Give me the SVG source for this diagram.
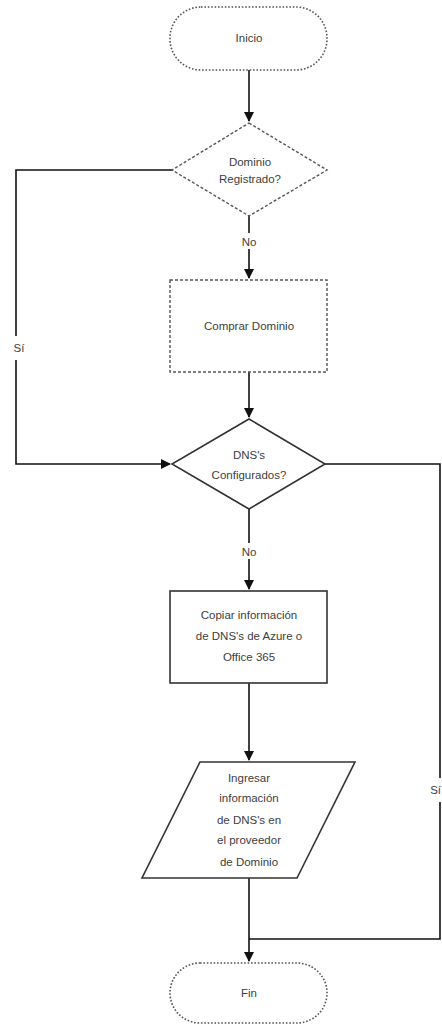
<svg xmlns="http://www.w3.org/2000/svg" width="442" height="1024" viewBox="0 0 442 1024">
<style>
.t{font-family:"Liberation Sans","Open Sans",sans-serif;font-size:11.5px;fill:#404040;text-anchor:middle}
.dot{fill:#fff;stroke:#555;stroke-width:1.6;stroke-dasharray:1.6 1.8}
.dash{fill:#fff;stroke:#555;stroke-width:1.4;stroke-dasharray:3 2}
.solid{fill:#fff;stroke:#333;stroke-width:1.6}
.c{fill:none;stroke:#111;stroke-width:1.6}
</style>
<defs>
<marker id="a" markerWidth="10" markerHeight="10" refX="9" refY="5" orient="auto" markerUnits="userSpaceOnUse">
<path d="M0,0 L10,5 L0,10 z" fill="#111"/>
</marker>
</defs>
<g id="connectors">
<path class="c" d="M249,70 V121" marker-end="url(#a)"/>
<path class="c" d="M249,216 V278" marker-end="url(#a)"/>
<path class="c" d="M172,170 H16 V464 H170" marker-end="url(#a)"/>
<path class="c" d="M249,372 V417" marker-end="url(#a)"/>
<path class="c" d="M249,509 V589" marker-end="url(#a)"/>
<path class="c" d="M249,683 V760" marker-end="url(#a)"/>
<path class="c" d="M325,464 H440 V939 H249"/>
<path class="c" d="M249,878 V961" marker-end="url(#a)"/>
<rect x="236" y="233" width="26" height="16" fill="#fff"/>
<text class="t" x="249" y="246">No</text>
<rect x="236" y="543" width="26" height="16" fill="#fff"/>
<text class="t" x="249" y="556">No</text>
<rect x="8" y="336" width="20" height="24" fill="#fff"/>
<text class="t" x="19" y="352">Sí</text>
<rect x="428" y="778" width="14" height="24" fill="#fff"/>
<text class="t" x="441" y="794" style="text-anchor:end">Sí</text>
</g>
<g id="inicio">
<rect class="dot" x="170" y="7" width="157" height="63" rx="31" ry="31"/>
<text class="t" x="249" y="42">Inicio</text>
</g>
<g id="dominio-registrado">
<polygon class="dash" points="249,123 327,170 249,216 172,170"/>
<text class="t" x="250" y="166">Dominio</text>
<text class="t" x="250" y="183">Registrado?</text>
</g>
<g id="comprar-dominio">
<rect class="dash" x="170" y="280" width="157" height="92"/>
<text class="t" x="249" y="330">Comprar Dominio</text>
</g>
<g id="dns-configurados">
<polygon class="solid" points="249,419 325,464 249,509 172,464"/>
<text class="t" x="249" y="459">DNS's</text>
<text class="t" x="249" y="479">Configurados?</text>
</g>
<g id="copiar">
<rect class="solid" x="170" y="591" width="157" height="92"/>
<text class="t" x="249" y="619">Copiar información</text>
<text class="t" x="249" y="640">de DNS's de Azure o</text>
<text class="t" x="249" y="661">Office 365</text>
</g>
<g id="ingresar">
<polygon class="solid" points="200,762 355,762 297,878 142,878"/>
<text class="t" x="249" y="782">Ingresar</text>
<text class="t" x="249" y="802">información</text>
<text class="t" x="249" y="824">de DNS's en</text>
<text class="t" x="249" y="844">el proveedor</text>
<text class="t" x="249" y="866">de Dominio</text>
</g>
<g id="fin">
<rect class="dot" x="170" y="963" width="157" height="60" rx="30" ry="30"/>
<text class="t" x="249" y="997">Fin</text>
</g>
</svg>
